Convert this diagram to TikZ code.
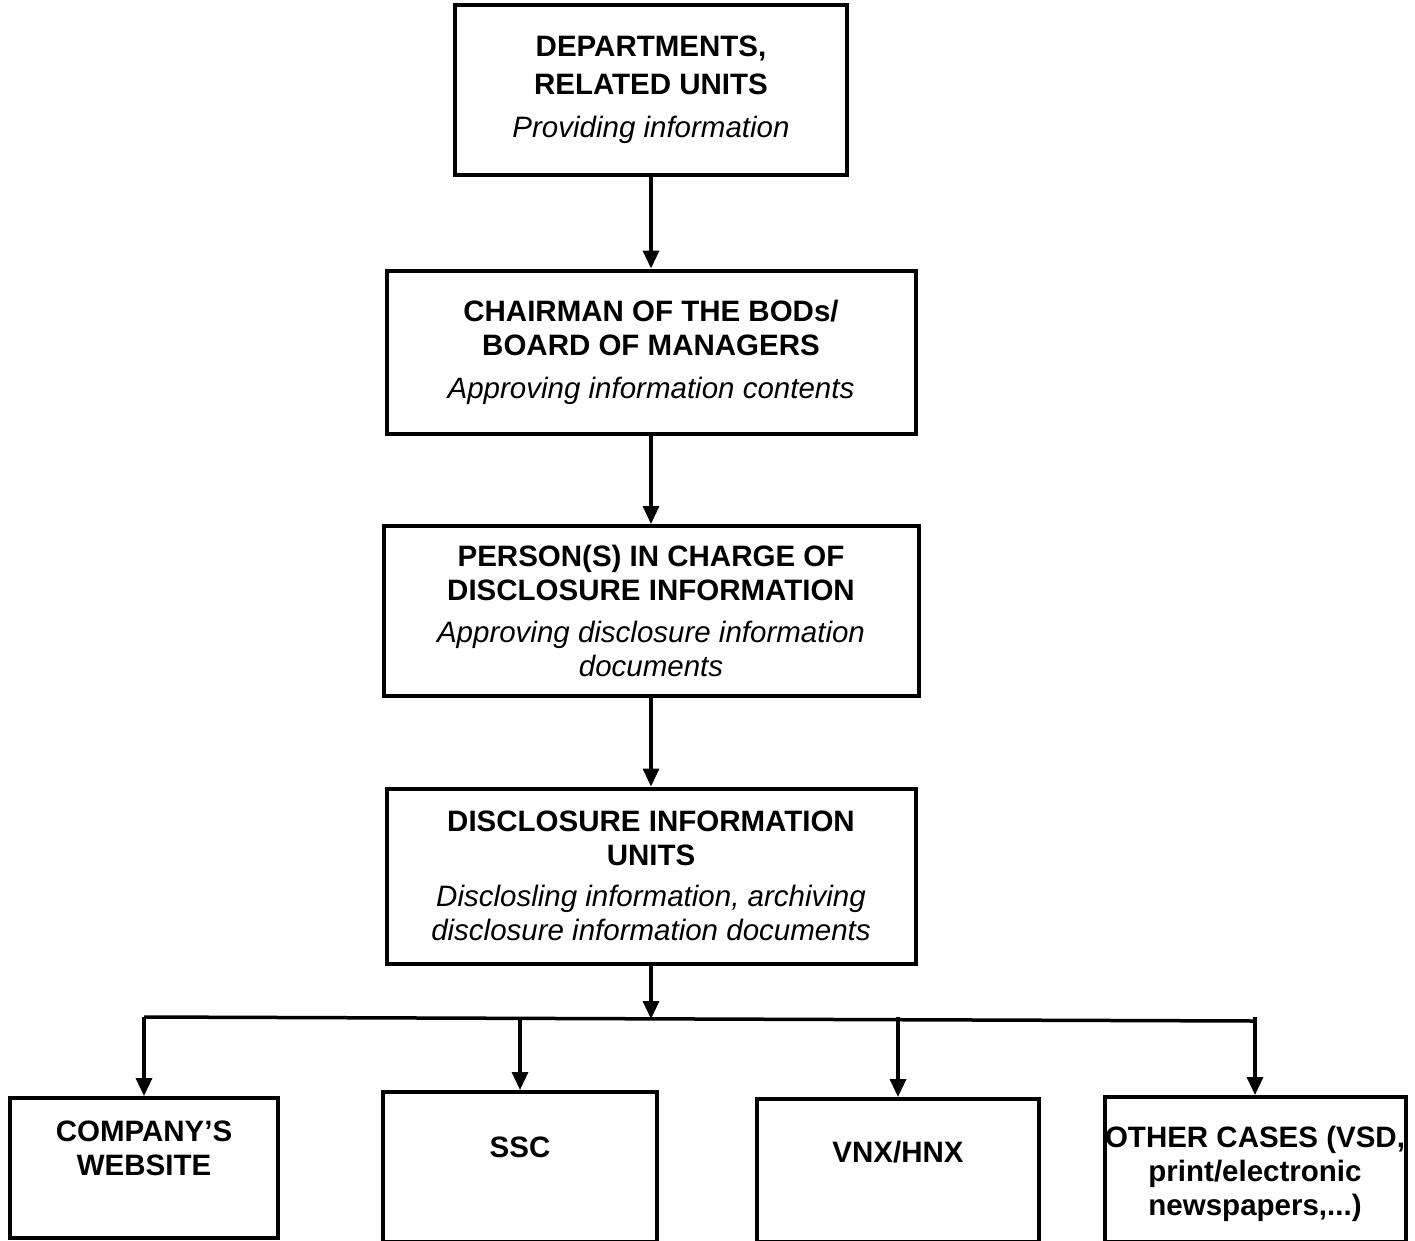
\documentclass[tikz,border=0pt]{standalone}
\usepackage{fontspec}
\setmainfont{Liberation Sans}
\usepackage{tikz}
\usetikzlibrary{arrows.meta, positioning}
\newcommand{\act}[1]{{\mdseries\itshape #1}}
\newcommand{\toptext}[4]{\parbox[t][#2][t]{#1}{\centering\vspace*{#3}#4}}
\tikzset{
  BoxStyle/.style={draw, rectangle, line width=4pt, inner sep=0pt, align=center,
    font=\fontsize{29.5}{34}\selectfont\bfseries},
  EdgeStyle/.style={->, line width=3.3pt},
  LineStyle/.style={line width=3.5pt},
  >={Triangle[length=18pt,width=16pt]}
}
\begin{document}
\begin{tikzpicture}[x=1pt, y=-1pt]
\useasboundingbox (0,0) rectangle (1415,1240);
\fill[white] (0,0) rectangle (1415,1240);
\node[BoxStyle, minimum width=392pt, minimum height=170pt] (dept) at (651,90)
  {DEPARTMENTS,\\[4pt]RELATED UNITS\\[9pt]\act{Providing information}};
\node[BoxStyle, minimum width=529pt, minimum height=163pt, below=91.5pt of dept] (chair)
  {CHAIRMAN OF THE BODs/\\BOARD OF MANAGERS\\[9pt]\act{Approving information contents}};
\node[BoxStyle, minimum width=535pt, minimum height=170pt, below=88.5pt of chair] (incharge)
  {PERSON(S) IN CHARGE OF\\DISCLOSURE INFORMATION\\[8pt]\act{Approving disclosure information}\\\act{documents}};
\node[BoxStyle, minimum width=529pt, minimum height=175pt, below=88.5pt of incharge] (units)
  {DISCLOSURE INFORMATION\\UNITS\\[7pt]\act{Disclosling information, archiving}\\\act{disclosure information documents}};
\node[BoxStyle, anchor=north] (web) at (144,1096)
  {\toptext{268pt}{140pt}{23pt}{COMPANY’S\\WEBSITE}};
\node[BoxStyle, anchor=north] (ssc) at (520,1090)
  {\toptext{274pt}{150pt}{45pt}{SSC}};
\node[BoxStyle, anchor=north] (vnx) at (898,1097)
  {\toptext{282pt}{143pt}{42pt}{VNX/HNX}};
\node[BoxStyle, anchor=north] (other) at (1255,1095)
  {\toptext{301pt}{145pt}{29pt}{OTHER CASES (VSD,\\print/electronic\\newspapers,...)}};
\coordinate (join) at (651,1019);
\coordinate (busl) at (144,1017);
\coordinate (busr) at (1255,1021);
\draw[EdgeStyle] (dept) -- (chair);
\draw[EdgeStyle] (chair) -- (incharge);
\draw[EdgeStyle] (incharge) -- (units);
\draw[EdgeStyle] (units) -- (join);
\draw[LineStyle] (busl) -- (busr);
\foreach \n in {web,ssc,vnx,other}
  \draw[EdgeStyle] (\n.north |- busl) -- (\n.north);
\end{tikzpicture}
\end{document}
